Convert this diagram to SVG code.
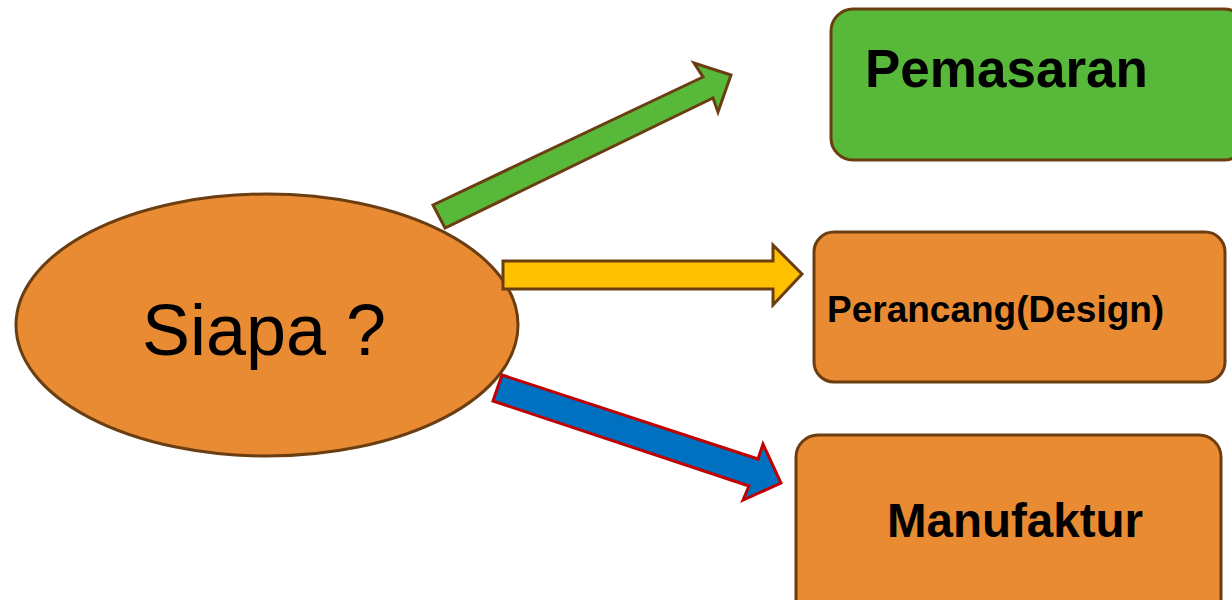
<svg xmlns="http://www.w3.org/2000/svg" width="1232" height="600" viewBox="0 0 1232 600">
<style>
.box{stroke:#6B3E12;stroke-width:3}
.orange{fill:#E98B33}
.green{fill:#58B83A}
.lbl{font-family:"Liberation Sans",Arial,sans-serif;font-weight:bold;fill:#000}
.arr{stroke:#6B3E12;stroke-width:3;stroke-linejoin:miter}
</style>
<rect width="1232" height="600" fill="#fff"/>
<g id="node-siapa">
<ellipse cx="267" cy="325" rx="251" ry="131" class="box orange"/>
<text x="264" y="355" text-anchor="middle" font-family="Liberation Sans, Arial, sans-serif" font-size="72" fill="#000">Siapa ?</text>
</g>
<g id="node-pemasaran">
<rect x="831" y="9" width="415" height="151" rx="22" class="box green"/>
<text x="865" y="87" font-size="53" class="lbl">Pemasaran</text>
</g>
<g id="node-perancang">
<rect x="814" y="232" width="411" height="150" rx="20" class="box orange"/>
<text x="827" y="322" font-size="37" class="lbl">Perancang(Design)</text>
</g>
<g id="node-manufaktur">
<rect x="796" y="435" width="425" height="185" rx="22" class="box orange"/>
<text x="887" y="537" font-size="47.5" class="lbl">Manufaktur</text>
</g>
<g id="connectors">
<polygon class="arr" fill="#58B83A" points="433,205 703,77 694,63 731,75 718,112 713,98 445,228"/>
<polygon class="arr" fill="#FFC000" points="503,261 773,261 773,245 802,274 773,305 773,289 503,289"/>
<polygon fill="#0070C0" stroke="#C00000" stroke-width="3" points="502,375 758,459 763,444 781,483 743,500 749,486 493,401"/>
</g>
</svg>
